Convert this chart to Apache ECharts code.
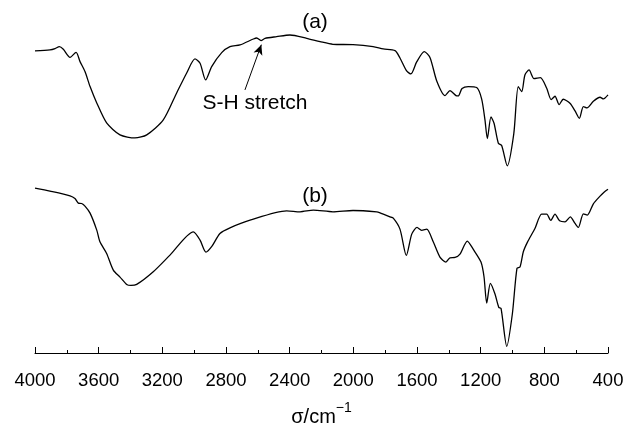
<!DOCTYPE html>
<html>
<head>
<meta charset="utf-8">
<script src="https://cdn.jsdelivr.net/npm/echarts@6/dist/echarts.min.js"></script>
<style>html,body{margin:0;padding:0;background:#fff}#c{width:629px;height:425px}</style>
</head>
<body>
<div id="c"></div>
<script>
// Wavenumbers (cm^-1) and relative transmittance (arbitrary offset units)
var waveA = [4000,3906,3874,3847,3822,3780,3742,3717,3686,3654,3612,3550,3466,3372,3298,3194,3110,3047,2995,2963,2928,2890,2827,2775,2712,2628,2607,2580,2555,2482,2398,2293,2209,2128,2002,1876,1812,1738,1707,1665,1638,1602,1554,1518,1476,1424,1393,1355,1341,1317,1278,1225,1194,1173,1158,1135,1116,1089,1068,1033,992,964,942,922,896,865,825,785,757,733,707,681,639,607,580,555,532,492,450,429,400];
var transA = [90.7,91.0,91.4,92.0,91.2,88.8,90.3,87.5,84.5,80.0,75.1,69.1,65.5,64.6,65.5,70.0,78.1,84.1,88.3,87.0,82.0,86.0,90.2,92.0,92.5,94.3,94.6,93.8,94.5,95.0,95.5,94.5,93.5,92.7,92.6,92.0,91.3,90.8,88.6,84.7,83.8,87.4,90.5,88.7,81.7,77.3,78.8,77.3,77.2,79.4,80.0,79.7,76.3,70.0,64.4,70.9,69.0,63.0,62.3,56.2,65.8,80.0,78.5,83.5,85.0,82.4,82.7,79.5,76.1,77.1,74.6,76.2,75.0,72.7,70.5,74.0,73.6,75.6,76.8,76.3,77.5];
var waveB = [4000,3906,3780,3749,3728,3707,3686,3654,3612,3592,3550,3508,3466,3424,3397,3361,3257,3152,3005,2963,2926,2888,2838,2775,2649,2419,2335,2251,2128,2002,1853,1832,1770,1749,1707,1667,1633,1600,1571,1539,1498,1456,1418,1393,1361,1330,1284,1246,1198,1179,1162,1139,1110,1086,1072,1036,1001,972,953,932,906,859,817,785,760,733,704,670,637,607,586,555,530,492,450,425,400];
var transB = [49.5,48.6,47.2,46.4,45.0,44.9,44.1,42.0,36.9,33.4,29.9,24.9,22.8,20.6,20.3,20.6,24.4,29.4,36.4,33.9,30.3,32.1,35.9,37.6,39.9,42.7,42.4,42.9,42.4,42.8,42.4,42.1,40.9,40.5,37.2,29.3,35.7,37.7,36.8,37.2,33.4,28.8,27.3,28.6,28.7,29.7,33.6,31.1,27.3,22.9,15.0,20.9,17.7,13.7,13.4,2.0,11.7,25.4,25.8,30.4,33.3,37.4,41.7,41.7,39.8,41.7,39.7,39.4,40.9,38.9,37.7,41.8,41.4,44.8,47.1,48.3,49.2];
var xTicks = [4000,3600,3200,2800,2400,2000,1600,1200,800,400];
var arrowFrom = [2681, 79.0];
var arrowTo = [2578, 92.6];

function pairs(w, t){ var o=[]; for(var i=0;i<w.length;i++) o.push([w[i], t[i]]); return o; }

var FONT = 'Liberation Sans, Arial, sans-serif';
var chart = echarts.init(document.getElementById('c'), null, {renderer:'canvas'});
chart.setOption({
  animation:false,
  backgroundColor:'#fff',
  grid:{left:35, right:21, top:20, bottom:72, outerBoundsMode:'none', containLabel:false},
  xAxis:{
    type:'value', inverse:true, min:400, max:4000, interval:400,
    axisLine:{show:true, lineStyle:{color:'#000', width:1}},
    axisTick:{show:true, inside:true, length:6, lineStyle:{color:'#000'}},
    minorTick:{show:true, splitNumber:2, length:3, lineStyle:{color:'#000'}},
    splitLine:{show:false},
    axisLabel:{color:'#000', fontFamily:FONT, fontSize:18.5, margin:18,
      formatter:function(v){ return xTicks.indexOf(v)>=0 ? String(v) : ''; }},
    name:'{n|σ/cm}{s|−1}', nameLocation:'middle', nameGap:48,
    nameTextStyle:{rich:{
      n:{fontFamily:FONT, fontSize:20, color:'#000', lineHeight:26, verticalAlign:'bottom'},
      s:{fontFamily:FONT, fontSize:14, color:'#000', verticalAlign:'top', lineHeight:14}
    }}
  },
  yAxis:{type:'value', min:0, max:100, show:false},
  series:[
    {type:'line', data:pairs(waveA, transA), showSymbol:false, smooth:0.25,
      lineStyle:{color:'#000', width:1.3},
      markLine:{silent:true, symbol:['none','arrow'], symbolSize:[7,10],
        lineStyle:{color:'#000', width:1, type:'solid'}, label:{show:false},
        data:[[{coord:arrowFrom},{coord:arrowTo}]]}},
    {type:'line', data:pairs(waveB, transB), showSymbol:false, smooth:0.25,
      lineStyle:{color:'#000', width:1.3}}
  ],
  graphic:[
    {type:'text', x:315, y:22, style:{text:'(a)', font:'21px '+FONT, fill:'#000', align:'center', verticalAlign:'middle'}},
    {type:'text', x:315, y:196, style:{text:'(b)', font:'21px '+FONT, fill:'#000', align:'center', verticalAlign:'middle'}},
    {type:'text', x:255, y:103, style:{text:'S-H stretch', font:'21px '+FONT, fill:'#000', align:'center', verticalAlign:'middle'}}
  ]
});
</script>
</body>
</html>
